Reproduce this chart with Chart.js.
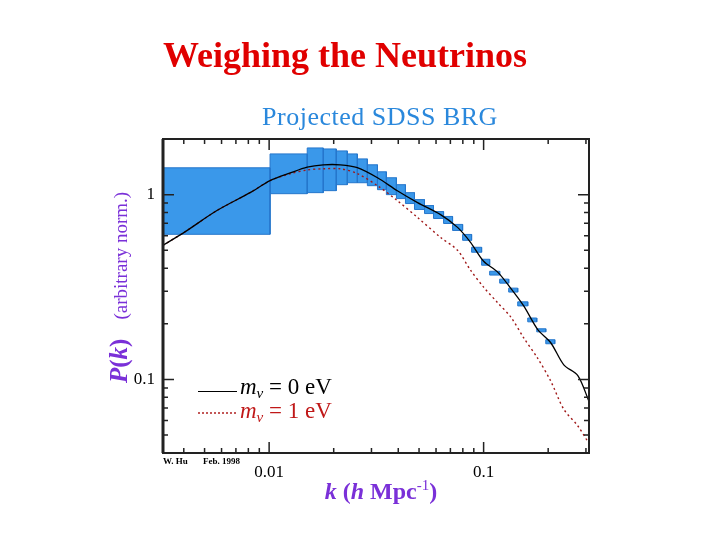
<!DOCTYPE html>
<html>
<head>
<meta charset="utf-8">
<script src="https://cdn.jsdelivr.net/npm/chart.js@4.4.0/dist/chart.umd.min.js"></script>
<style>
  html, body { margin: 0; padding: 0; background: #fff; }
  #wrap { width: 720px; height: 540px; }
</style>
</head>
<body>
<div id="wrap"><canvas id="chart"></canvas></div>
<script>
// projected SDSS BRG error boxes: bin edges in k (h/Mpc), box bounds in P(k)
const binEdges = [0.0032, 0.0101, 0.01505, 0.01788, 0.02056, 0.02314, 0.02578, 0.02871, 0.0320, 0.03521,
    0.03922, 0.04321, 0.04761, 0.05302, 0.0584, 0.06505, 0.07165, 0.0798, 0.08788, 0.09787,
    0.1067, 0.1188, 0.1309, 0.1442, 0.1606, 0.1769, 0.1949, 0.2146];
const boxHigh = [1.397, 1.661, 1.789, 1.767, 1.724, 1.661, 1.561, 1.45, 1.329, 1.234,
    1.132, 1.025, 0.940, 0.873, 0.810, 0.762, 0.690, 0.609, 0.519, 0.447,
    0.385, 0.349, 0.312, 0.263, 0.215, 0.188, 0.164];
const boxLow = [0.61, 1.012, 1.025, 1.051, 1.132, 1.16, 1.16, 1.118, 1.064, 1.0,
    0.952, 0.895, 0.831, 0.790, 0.743, 0.698, 0.640, 0.566, 0.488, 0.415,
    0.367, 0.332, 0.297, 0.250, 0.205, 0.181, 0.156];

// model power spectra
const kModel = [0.0032, 0.00405, 0.00571, 0.00815, 0.0101, 0.01254, 0.01505, 0.01788, 0.02147, 0.02578,
    0.0320, 0.0396, 0.0492, 0.0630, 0.0756, 0.0869, 0.100, 0.1163, 0.1337, 0.1538,
    0.1788, 0.2056, 0.2365, 0.2750, 0.31];
const pNu0 = [0.532, 0.629, 0.82, 1.025, 1.19, 1.31, 1.41, 1.45, 1.45, 1.40,
    1.234, 1.05, 0.906, 0.78, 0.665, 0.552, 0.436, 0.381, 0.312, 0.25,
    0.186, 0.158, 0.12, 0.105, 0.076];
const pNu1 = [0.532, 0.629, 0.82, 1.025, 1.19, 1.297, 1.36, 1.38, 1.38, 1.30,
    1.118, 0.928, 0.752, 0.587, 0.50, 0.39, 0.316, 0.26, 0.218, 0.168,
    0.13, 0.098, 0.069, 0.056, 0.045];

// axis ticks
const xTicks = [0.004, 0.005, 0.006, 0.007, 0.008, 0.009, 0.01, 0.02, 0.03, 0.04, 0.05, 0.06, 0.07, 0.08, 0.09, 0.1, 0.2, 0.3];
const yTicks = [0.05, 0.06, 0.07, 0.08, 0.09, 0.1, 0.2, 0.3, 0.4, 0.5, 0.6, 0.7, 0.8, 0.9, 1];
const xLabelValues = [0.01, 0.1];
const yLabelValues = [0.1, 1];

const serif = '"Liberation Serif", "DejaVu Serif", serif';
const purple = '#7a30d8';

const boxSets = boxHigh.map((hi, i) => ({
    type: 'line',
    data: [
        { x: binEdges[i], y: boxLow[i] },
        { x: binEdges[i], y: hi },
        { x: binEdges[i + 1], y: hi },
        { x: binEdges[i + 1], y: boxLow[i] },
        { x: binEdges[i], y: boxLow[i] }
    ],
    fill: 'shape',
    backgroundColor: '#3a98ea',
    borderColor: '#2677cc',
    borderWidth: 1,
    pointRadius: 0,
    tension: 0,
    order: 2
}));

// draws a run of text pieces, each with own font / colour / baseline shift
function drawPieces(ctx, pieces, x, y, align) {
    let total = 0;
    pieces.forEach(p => { ctx.font = p.font; p.w = ctx.measureText(p.text).width; total += p.w; });
    let cx = align === 'center' ? x - total / 2 : x;
    pieces.forEach(p => {
        ctx.font = p.font;
        ctx.fillStyle = p.color;
        ctx.fillText(p.text, cx, y + (p.dy || 0));
        cx += p.w;
    });
}

const decor = {
    id: 'decor',
    afterDraw(chart) {
        const { ctx, chartArea: a, scales: { x, y } } = chart;
        ctx.save();
        ctx.strokeStyle = '#222';

        // tick marks on all four sides, pointing inwards
        ctx.lineWidth = 1.5;
        ctx.beginPath();
        xTicks.forEach(v => {
            const px = x.getPixelForValue(v);
            const len = xLabelValues.includes(v) ? 11 : 5;
            ctx.moveTo(px, a.bottom); ctx.lineTo(px, a.bottom - len);
            ctx.moveTo(px, a.top); ctx.lineTo(px, a.top + len);
        });
        yTicks.forEach(v => {
            const py = y.getPixelForValue(v);
            const len = yLabelValues.includes(v) ? 11 : 5;
            ctx.moveTo(a.left, py); ctx.lineTo(a.left + len, py);
            ctx.moveTo(a.right, py); ctx.lineTo(a.right - len, py);
        });
        ctx.stroke();

        // frame
        ctx.lineWidth = 2;
        ctx.strokeRect(a.left, a.top, a.right - a.left, a.bottom - a.top);
        ctx.lineWidth = 3;
        ctx.beginPath();
        ctx.moveTo(a.left, a.top); ctx.lineTo(a.left, a.bottom);
        ctx.stroke();

        // titles
        ctx.textBaseline = 'alphabetic';
        ctx.textAlign = 'center';
        ctx.fillStyle = '#e00000';
        ctx.font = 'bold 36px ' + serif;
        ctx.fillText('Weighing the Neutrinos', 345, 67);
        ctx.fillStyle = '#2a88dc';
        ctx.font = '26px ' + serif;
        ctx.letterSpacing = '0.5px';
        ctx.fillText('Projected SDSS BRG', 380, 125);
        ctx.letterSpacing = '0px';

        ctx.textAlign = 'left';
        // x axis title
        drawPieces(ctx, [
            { text: 'k', font: 'italic bold 24px ' + serif, color: purple },
            { text: ' (', font: 'bold 24px ' + serif, color: purple },
            { text: 'h', font: 'italic bold 24px ' + serif, color: purple },
            { text: ' Mpc', font: 'bold 24px ' + serif, color: purple },
            { text: '-1', font: '15px ' + serif, color: purple, dy: -9 },
            { text: ')', font: 'bold 24px ' + serif, color: purple }
        ], 381, 499, 'center');

        // y axis title
        ctx.save();
        ctx.translate(127, 383);
        ctx.rotate(-Math.PI / 2);
        drawPieces(ctx, [
            { text: 'P', font: 'italic bold 25px ' + serif, color: purple },
            { text: '(', font: 'bold 25px ' + serif, color: purple },
            { text: 'k', font: 'italic bold 25px ' + serif, color: purple },
            { text: ')', font: 'bold 25px ' + serif, color: purple },
            { text: '    (arbitrary norm.)', font: '19px ' + serif, color: purple }
        ], 0, 0, 'left');
        ctx.restore();

        // legend
        ctx.lineWidth = 1;
        ctx.strokeStyle = '#000';
        ctx.beginPath();
        ctx.moveTo(198, 391.5); ctx.lineTo(237, 391.5);
        ctx.stroke();
        ctx.strokeStyle = '#b02020';
        ctx.lineWidth = 1.5;
        ctx.setLineDash([2, 2]);
        ctx.beginPath();
        ctx.moveTo(198, 413); ctx.lineTo(237, 413);
        ctx.stroke();
        ctx.setLineDash([]);
        drawPieces(ctx, [
            { text: 'm', font: 'italic 23px ' + serif, color: '#000' },
            { text: 'ν', font: 'italic 15px ' + serif, color: '#000', dy: 4 },
            { text: ' = 0 eV', font: '23px ' + serif, color: '#000' }
        ], 240, 394, 'left');
        drawPieces(ctx, [
            { text: 'm', font: 'italic 23px ' + serif, color: '#c01818' },
            { text: 'ν', font: 'italic 15px ' + serif, color: '#c01818', dy: 4 },
            { text: ' = 1 eV', font: '23px ' + serif, color: '#c01818' }
        ], 240, 418, 'left');

        // credit
        ctx.fillStyle = '#000';
        ctx.font = 'bold 9px ' + serif;
        ctx.fillText('W. Hu', 163, 464);
        ctx.fillText('Feb. 1998', 203, 464);
        ctx.restore();
    }
};

const ctx = document.getElementById('chart').getContext('2d');
new Chart(ctx, {
    type: 'scatter',
    data: {
        datasets: [
            {
                type: 'line',
                label: 'm_nu = 0 eV',
                data: kModel.map((k, i) => ({ x: k, y: pNu0[i] })),
                borderColor: '#000',
                borderWidth: 1.3,
                pointRadius: 0,
                tension: 0.3,
                fill: false,
                order: 0
            },
            {
                type: 'line',
                label: 'm_nu = 1 eV',
                data: kModel.map((k, i) => ({ x: k, y: pNu1[i] })),
                borderColor: '#a01818',
                borderWidth: 1.4,
                borderDash: [2, 3],
                pointRadius: 0,
                tension: 0.3,
                fill: false,
                order: 1
            },
            ...boxSets
        ]
    },
    options: {
        responsive: true,
        maintainAspectRatio: false,
        animation: false,
        layout: { padding: { top: 139, right: 131, left: 0, bottom: 0 } },
        plugins: {
            legend: { display: false },
            tooltip: { enabled: false }
        },
        scales: {
            x: {
                type: 'logarithmic',
                min: 0.0032,
                max: 0.31,
                afterFit: s => { s.height = 87; },
                afterBuildTicks: s => { s.ticks = xTicks.map(v => ({ value: v })); },
                grid: { display: false },
                border: { display: false },
                ticks: {
                    autoSkip: false,
                    maxRotation: 0,
                    padding: 1,
                    color: '#000',
                    font: { family: serif, size: 17 },
                    callback: v => xLabelValues.includes(v) ? String(v) : ''
                }
            },
            y: {
                type: 'logarithmic',
                min: 0.04,
                max: 2,
                afterFit: s => { s.width = 163; },
                afterBuildTicks: s => { s.ticks = yTicks.map(v => ({ value: v })); },
                grid: { display: false },
                border: { display: false },
                ticks: {
                    autoSkip: false,
                    padding: 0,
                    color: '#000',
                    font: { family: serif, size: 17 },
                    callback: v => yLabelValues.includes(v) ? String(v) : ''
                }
            }
        }
    },
    plugins: [decor]
});
</script>
</body>
</html>
